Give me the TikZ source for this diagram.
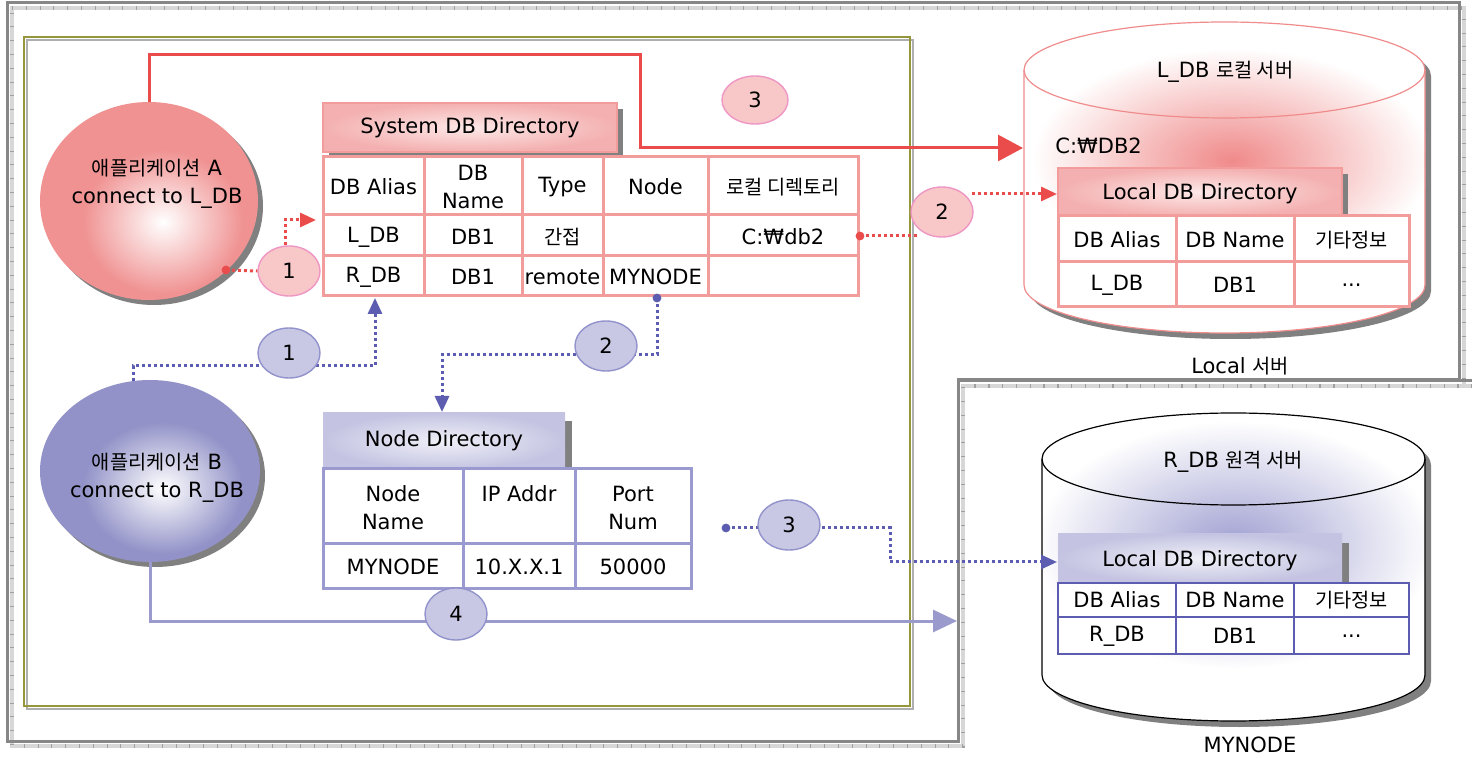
\documentclass[tikz,border=0pt]{standalone}
\usepackage{fontspec}
\setmainfont{DejaVu Sans}
\newfontfamily\krf[Scale=0.94]{Noto Sans CJK KR}
\newcommand{\kr}[1]{{\krf #1}}
\usetikzlibrary{arrows.meta,shapes.geometric,shadows}
\definecolor{framec}{RGB}{135,135,135}
\definecolor{rulerc}{RGB}{215,215,215}
\definecolor{tickc}{RGB}{160,160,160}
\definecolor{olivec}{RGB}{150,150,60}
\definecolor{oliveshadow}{RGB}{175,175,175}
\definecolor{redline}{RGB}{234,76,76}
\definecolor{pinkgrid}{RGB}{242,156,156}
\definecolor{bubRf}{RGB}{248,200,200}
\definecolor{bubRb}{RGB}{238,150,196}
\definecolor{bubBf}{RGB}{200,200,228}
\definecolor{bubBb}{RGB}{146,146,204}
\definecolor{bluedot}{RGB}{92,92,176}
\definecolor{bluesol}{RGB}{154,154,204}
\definecolor{appAc}{RGB}{240,146,146}
\definecolor{appBc}{RGB}{146,146,200}
\definecolor{hdrRo}{RGB}{244,176,176}
\definecolor{hdrRi}{RGB}{253,232,232}
\definecolor{hdrBo}{RGB}{196,196,226}
\definecolor{hdrBi}{RGB}{240,240,248}
\definecolor{nodegrid}{RGB}{154,154,208}
\definecolor{rgrid}{RGB}{92,92,176}
\definecolor{glowL}{RGB}{240,138,138}
\definecolor{glowR}{RGB}{160,160,210}
\definecolor{cylLb}{RGB}{240,140,140}
\definecolor{shadowc}{RGB}{128,128,128}
\begin{document}
\begin{tikzpicture}[x=0.5pt,y=-0.5pt,
  font=\fontsize{10.5}{14}\selectfont,
  every node/.style={inner sep=0pt,align=center},
  framegray/.style={draw=framec,line width=1.5pt},
  frameruler/.style={draw=rulerc,line width=2.2pt},
  frameticks/.style={draw=tickc,line width=2.2pt,dash pattern=on 0.4pt off 6.5pt},
  redsolid/.style={draw=redline,line width=1.5pt},
  reddots/.style={draw=redline,line width=1.5pt,dash pattern=on 1.5pt off 1.5pt},
  bluedots/.style={draw=bluedot,line width=1.5pt,dash pattern=on 1.5pt off 1.5pt},
  bluesolid/.style={draw=bluesol,line width=1.5pt},
  bubred/.style={ellipse,draw=bubRb,fill=bubRf,line width=0.7pt,minimum width=31pt,minimum height=25pt},
  bubblue/.style={ellipse,draw=bubBb,fill=bubBf,line width=0.7pt,minimum width=31pt,minimum height=25pt},
  bigtip/.style={-{Triangle[length=12.5pt,width=13pt]}},
  midtip/.style={-{Triangle[length=12pt,width=11pt]}},
  smalltip/.style={-{Triangle[length=8pt,width=7pt]}},
  pinkgridline/.style={draw=pinkgrid,line width=1.5pt},
  nodegridline/.style={draw=nodegrid,line width=1.5pt},
  rgridline/.style={draw=rgrid,line width=1.2pt},
  appshadow/.style={drop shadow={shadow xshift=2.5pt,shadow yshift=-2.5pt,fill=shadowc,opacity=1}},
]
\useasboundingbox (0,0) rectangle (1472,758);
\fill[white] (0,0) rectangle (1472,758);

% ---------- frames ----------
\draw[frameruler] (12,8) -- (1464,8) -- (1464,386) -- (963,386) -- (963,746) -- (12,746) -- cycle;
\draw[frameruler] (1472,386) -- (963,386);
\draw[frameticks] (12,8) -- (1464,8) -- (1464,386) -- (963,386) -- (963,746) -- (12,746) -- cycle;
\draw[frameticks] (1472,386) -- (963,386);
\draw[framegray] (7,3) -- (1459,3) -- (1459,380) -- (958,380) -- (958,741) -- (7,741) -- cycle;
\draw[framegray] (1472,381) -- (958,381) -- (958,742);

\draw[oliveshadow,line width=0.7pt] (27,40) rectangle (913,709);
\draw[olivec,line width=0.8pt] (24,37) rectangle (910,706);

% ---------- L_DB cylinder ----------
\fill[shadowc,shift={(6,6)}] (1024,70) -- (1024,285) arc[start angle=180,end angle=360,x radius=100.25pt,y radius=24pt] -- (1425,70) arc[start angle=0,end angle=180,x radius=100.25pt,y radius=24pt] -- cycle;
\fill[white] (1024,70) -- (1024,285) arc[start angle=180,end angle=360,x radius=100.25pt,y radius=24pt] -- (1425,70) arc[start angle=0,end angle=180,x radius=100.25pt,y radius=24pt] -- cycle;
\begin{scope}
\clip (1024,70) -- (1024,285) arc[start angle=180,end angle=360,x radius=100.25pt,y radius=24pt] -- (1425,70) arc[start angle=0,end angle=180,x radius=100.25pt,y radius=24pt] -- cycle;
\shade[inner color=glowL,outer color=white] (1232,160) ellipse [x radius=100pt,y radius=56pt];
\end{scope}
\draw[cylLb,line width=0.6pt] (1024,70) -- (1024,285) arc[start angle=180,end angle=360,x radius=100.25pt,y radius=24pt] -- (1425,70);
\draw[cylLb,line width=0.6pt] (1224.5,70) ellipse [x radius=100.25pt,y radius=24pt];
\node (cylLtitle) at (1225,72) {L\_DB \kr{로컬 서버}};
\node[anchor=west] (cylLpath) at (1055,146) {C:₩DB2};
\node (localsrv) at (1240,366) {Local \kr{서버}};
\coordinate (cylLin) at (1023,148);

% Local DB Directory (L)
\fill[shadowc] (1342,174) rectangle (1348,216);
\shade[inner color=hdrRi,outer color=hdrRo] (1058,168) rectangle (1342,216);
\draw[pinkgrid,line width=0.6pt] (1058,168) rectangle (1342,216);
\node (ldirL) at (1200,194) {Local DB Directory};
\coordinate (ldirLin) at (1057,194);
\fill[white] (1058,216) rectangle (1409,307);
\draw[pinkgridline] (1058,216) rectangle (1409,307);
\draw[pinkgridline] (1176,216) -- (1176,307) (1294,216) -- (1294,307) (1058,262) -- (1409,262);
\node (lc11) at (1117,240) {DB Alias};
\node (lc12) at (1235,240) {DB Name};
\node (lc13) at (1351.5,240) {\kr{기타정보}};
\node (lc21) at (1117,285) {L\_DB};
\node (lc22) at (1235,285) {DB1};
\node (lc23) at (1351.5,285) {...};

% ---------- R_DB cylinder ----------
\fill[shadowc,shift={(6,6)}] (1042,459) -- (1042,675) arc[start angle=180,end angle=360,x radius=95.75pt,y radius=23pt] -- (1425,459) arc[start angle=0,end angle=180,x radius=95.75pt,y radius=23pt] -- cycle;
\fill[white] (1042,459) -- (1042,675) arc[start angle=180,end angle=360,x radius=95.75pt,y radius=23pt] -- (1425,459) arc[start angle=0,end angle=180,x radius=95.75pt,y radius=23pt] -- cycle;
\begin{scope}
\clip (1042,459) -- (1042,675) arc[start angle=180,end angle=360,x radius=95.75pt,y radius=23pt] -- (1425,459) arc[start angle=0,end angle=180,x radius=95.75pt,y radius=23pt] -- cycle;
\shade[inner color=glowR,outer color=white] (1235,545) ellipse [x radius=100pt,y radius=62pt];
\end{scope}
\draw[black,line width=0.6pt] (1042,459) -- (1042,675) arc[start angle=180,end angle=360,x radius=95.75pt,y radius=23pt] -- (1425,459);
\draw[black,line width=0.6pt] (1233.5,459) ellipse [x radius=95.75pt,y radius=23pt];
\node (cylRtitle) at (1233,462) {R\_DB \kr{원격 서버}};
\node (mynodesrv) at (1250,745) {MYNODE};

% Local DB Directory (R)
\fill[shadowc] (1342,543) rectangle (1349,583);
\shade[inner color=hdrBi,outer color=hdrBo] (1058,534) rectangle (1342,583);
\node (ldirR) at (1200,561) {Local DB Directory};
\coordinate (ldirRin) at (1057,562);
\fill[white] (1058,583) rectangle (1409,654);
\draw[rgridline] (1058,583) rectangle (1409,654);
\draw[rgridline] (1176,583) -- (1176,654) (1294,583) -- (1294,654) (1058,617) -- (1409,617);
\node (rc11) at (1117,600) {DB Alias};
\node (rc12) at (1235,600) {DB Name};
\node (rc13) at (1351.5,600) {\kr{기타정보}};
\node (rc21) at (1117,636) {R\_DB};
\node (rc22) at (1235,636) {DB1};
\node (rc23) at (1351.5,636) {...};

% ---------- System DB Directory ----------
\fill[shadowc] (329,109) rectangle (623,157);
\shade[inner color=hdrRi,outer color=hdrRo] (323,103) rectangle (617,152);
\draw[pinkgrid,line width=0.7pt] (323,103) rectangle (617,152);
\node (sysHdr) at (470,128) {System DB Directory};
\fill[white] (323,157) rectangle (858,296);
\draw[pinkgridline] (323,157) rectangle (858,296);
\draw[pinkgridline] (424,157) -- (424,296) (522,157) -- (522,296) (603,157) -- (603,296) (708,157) -- (708,296)
  (323,215) -- (858,215) (323,256) -- (858,256);
\node (s11) at (373.5,187) {DB Alias};
\node (s12) at (473,187) {DB\\Name};
\node (s13) at (562.5,187) {Type};
\node (s14) at (655.5,187) {Node};
\node (s15) at (783,187) {\kr{로컬 디렉토리}};
\node (s21) at (373.5,237) {L\_DB};
\node (s22) at (473,237) {DB1};
\node (s23) at (562.5,237) {\kr{간접}};
\node (s25) at (783,237) {C:₩db2};
\node (s31) at (373.5,277) {R\_DB};
\node (s32) at (473,277) {DB1};
\node (s33) at (562.5,277) {remote};
\node (s34) at (655.5,277) {MYNODE};
\coordinate (sysIn) at (316,220);
\coordinate (sysBot) at (375,298);
\coordinate (nodeCellBot) at (657,298);
\coordinate (dbCellRight) at (860,236);

% ---------- Node Directory ----------
\fill[shadowc] (565,421) rectangle (572,469);
\shade[inner color=hdrBi,outer color=hdrBo] (323,413) rectangle (565,469);
\node (nodeHdr) at (444,441) {Node Directory};
\coordinate (nodeIn) at (442,412);
\fill[white] (323,469) rectangle (691,589);
\draw[nodegridline] (323,469) rectangle (691,589);
\draw[nodegridline] (463,469) -- (463,589) (575,469) -- (575,589) (323,544) -- (691,544);
\node (n11) at (393,508) {Node\\Name};
\node (n12) at (519,494) {IP Addr};
\node (n13) at (633,508) {Port\\Num};
\node (n21) at (393,567) {MYNODE};
\node (n22) at (519,567) {10.X.X.1};
\node (n23) at (633,567) {50000};

% ---------- applications ----------
\node[ellipse,minimum width=109pt,minimum height=99pt,fill=appAc,appshadow] (appA) at (149,201) {};
\begin{scope}
\clip (149,201) ellipse [x radius=54.5pt,y radius=49.5pt];
\shade[inner color=white,outer color=appAc] (163,222) ellipse [x radius=40pt,y radius=36pt];
\end{scope}
\node (appAtxt) at (157,184) {\kr{애플리케이션} A\\connect to L\_DB};
\node[ellipse,minimum width=110pt,minimum height=91pt,fill=appBc,appshadow] (appB) at (150,471) {};
\begin{scope}
\clip (150,471) ellipse [x radius=55pt,y radius=45.5pt];
\shade[inner color=white,outer color=appBc] (163,488) ellipse [x radius=40pt,y radius=33pt];
\end{scope}
\node (appBtxt) at (157,478) {\kr{애플리케이션} B\\connect to R\_DB};

% ---------- connectors ----------
% red solid (3)
\draw[redsolid,bigtip] (appA.north) -- (149,55) -- (640,55) -- (640,148) -- (cylLin);
% red dotted (1)
\coordinate (dotA) at (226,270);
\node[bubred] (r1) at (289,271) {1};
\draw[reddots] (dotA) -- (r1.west);
\draw[reddots,smalltip] (r1.north) ++(-4,0) coordinate (r1up) -- (285,220) -- (sysIn);
\fill[redline] (dotA) circle (2.2pt);
% red dotted (2)
\draw[reddots] (dbCellRight) -- (920,236);
\fill[redline] (dbCellRight) circle (2.2pt);
\node[bubred] (r2) at (942,212) {2};
\draw[reddots,smalltip] (972,194) -- (ldirLin);
% red bubble 3
\node[bubred,minimum width=33pt,minimum height=24pt] (r3) at (755,100) {3};

% blue dotted (1)
\draw[bluedots,smalltip] (133,381) -- (133,366) -- (375,366) -- (sysBot);
\node[bubblue] (b1) at (289,353) {1};
% blue dotted (2)
\draw[bluedots,smalltip] (nodeCellBot) -- (657,355) -- (442,355) -- (nodeIn);
\fill[bluedot] (nodeCellBot) circle (2.2pt);
\node[bubblue] (b2) at (606,346) {2};
% blue dotted (3)
\coordinate (dotN) at (726,528);
\draw[bluedots,smalltip] (dotN) -- (890,528) -- (890,562) -- (ldirRin);
\fill[bluedot] (dotN) circle (2.2pt);
\node[bubblue] (b3) at (789,525) {3};
% blue solid (4)
\coordinate (srvRin) at (957,621);
\draw[bluesolid,midtip] (appB.south) -- (150,621) -- (srvRin);
\node[bubblue,minimum height=26pt] (b4) at (456,614) {4};
\end{tikzpicture}
\end{document}
